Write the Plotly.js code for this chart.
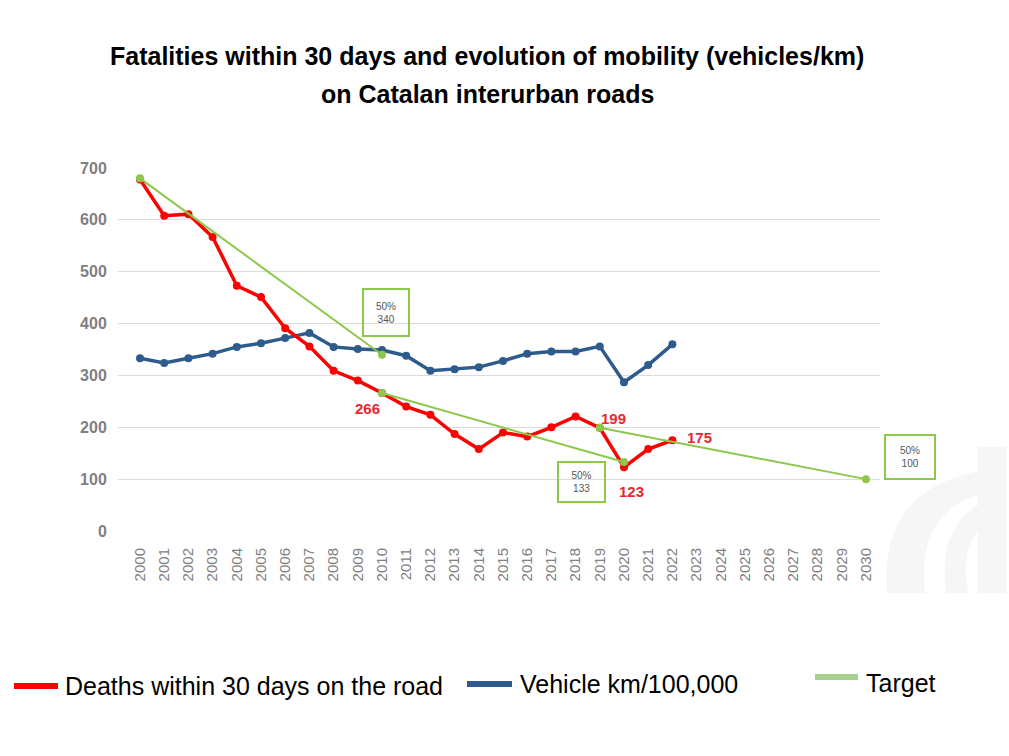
<!DOCTYPE html>
<html>
<head>
<meta charset="utf-8">
<script src="https://cdn.plot.ly/plotly-3.0.1.min.js"></script>
<style>html,body{margin:0;padding:0;background:#fff;}#chart{width:1009px;height:756px;}</style>
</head>
<body>
<div id="chart"></div>
<script>
const years = [2000,2001,2002,2003,2004,2005,2006,2007,2008,2009,2010,2011,2012,2013,2014,2015,2016,2017,2018,2019,2020,2021,2022];
const deaths = [678,608,611,567,473,451,391,356,309,290,266,240,224,187,158,190,182,200,221,199,123,158,175];
const vehicleKm = [333,324,333,342,355,362,372,382,355,351,349,338,309,312,316,328,342,346,346,356,287,320,360];
const targetYears = [2000,2010,null,2010,2020,null,2019,2030];
const targetValues = [680,340,null,266,133,null,199,100];
const tickYears = [2000,2001,2002,2003,2004,2005,2006,2007,2008,2009,2010,2011,2012,2013,2014,2015,2016,2017,2018,2019,2020,2021,2022,2023,2024,2025,2026,2027,2028,2029,2030];
const yTicks = [0,100,200,300,400,500,600,700];
const targetBoxLabels = ['50%<br>340', '50%<br>133', '50%<br>100'];
const labelYears = [2010, 2019, 2022, 2020];
const labelValues = [266, 199, 175, 123];
const legendNames = ['Deaths within 30 days on the road', 'Vehicle km/100,000', 'Target'];
const titleLines = ['Fatalities within 30 days and evolution of mobility (vehicles/km)', 'on Catalan interurban roads'];

const W = 1009, H = 756;
const L = 118, R = 880, T = 168, B = 531;
const px = x => (x - L) / (R - L);
const py = y => (B - y) / (B - T);

const RED = '#ff0000', BLUE = '#2e5a8c', GREEN = '#8cc84b';
const SANS = '"Liberation Sans", Arial, sans-serif';

const traces = [
  {x: years, y: vehicleKm, type: 'scatter', mode: 'lines+markers', line: {color: BLUE, width: 3.5}, marker: {color: BLUE, size: 8}, showlegend: false, cliponaxis: false},
  {x: years, y: deaths, type: 'scatter', mode: 'lines+markers', line: {color: RED, width: 3.5}, marker: {color: RED, size: 8}, showlegend: false, cliponaxis: false},
  {x: targetYears, y: targetValues, type: 'scatter', mode: 'lines+markers', line: {color: GREEN, width: 2}, marker: {color: GREEN, size: 8}, showlegend: false, cliponaxis: false, connectgaps: false}
];

const annotations = [];
const titleY = [56, 94];
titleLines.forEach((t, i) => {
  annotations.push({xref: 'paper', yref: 'paper', x: px(487), y: py(titleY[i]), text: '<b>' + t + '</b>', showarrow: false, xanchor: 'center', yanchor: 'middle', font: {family: SANS, size: 25, color: '#000'}});
});

const boxPos = [[386, 312, 48, 49], [581, 482, 49, 42], [910, 457, 52, 46]];
targetBoxLabels.forEach((t, i) => {
  const b = boxPos[i];
  annotations.push({xref: 'paper', yref: 'paper', x: px(b[0]), y: py(b[1]), text: t, showarrow: false, xanchor: 'center', yanchor: 'middle',
    width: b[2] - 4, height: b[3] - 4, bordercolor: GREEN, borderwidth: 2, bgcolor: 'rgba(255,255,255,0)', borderpad: 0,
    font: {family: SANS, size: 10, color: '#555'}});
});

const labelOffsets = [[-0.62, -30.5], [0.55, 17], [1.14, 4.5], [0.33, -46]];
labelValues.forEach((v, i) => {
  annotations.push({x: labelYears[i] + labelOffsets[i][0], y: v + labelOffsets[i][1], xref: 'x', yref: 'y', text: '<b>' + v + '</b>', showarrow: false,
    xanchor: 'center', yanchor: 'middle', font: {family: SANS, size: 15, color: '#e8282e'}});
});

const P = (X, Y) => px(X).toFixed(4) + ',' + py(Y).toFixed(4);
const WM = '#f6f6f6';
const shapes = [
  {type: 'path', xref: 'paper', yref: 'paper', layer: 'below', line: {width: 0}, fillcolor: WM,
    path: 'M' + P(887,593) + ' Q' + P(878,488) + ' ' + P(985,470) + ' L' + P(985,492) + ' Q' + P(915,512) + ' ' + P(925,593) + ' Z'},
  {type: 'path', xref: 'paper', yref: 'paper', layer: 'below', line: {width: 0}, fillcolor: WM,
    path: 'M' + P(946,593) + ' Q' + P(938,528) + ' ' + P(978,505) + ' L' + P(978,532) + ' Q' + P(960,552) + ' ' + P(968,593) + ' Z'},
  {type: 'rect', xref: 'paper', yref: 'paper', layer: 'below', line: {width: 0}, fillcolor: WM,
    x0: px(978), x1: px(1006), y0: py(593), y1: py(447)}
];

const legendColors = [RED, BLUE, '#a8d18d'];
const legendPos = [[14, 58, 686, 63], [467, 512, 684, 518], [815, 858, 677, 864]];
const legendTextY = [686, 684, 683];
legendNames.forEach((n, i) => {
  const p = legendPos[i];
  shapes.push({type: 'line', xref: 'paper', yref: 'paper', x0: px(p[0]), x1: px(p[1]), y0: py(p[2]), y1: py(p[2]), line: {color: legendColors[i], width: 6}});
  annotations.push({xref: 'paper', yref: 'paper', x: px(p[3]), y: py(legendTextY[i]), text: n, showarrow: false, xanchor: 'left', yanchor: 'middle',
    font: {family: SANS, size: 25, color: '#000'}});
});

const layout = {
  width: W, height: H,
  margin: {l: L, r: W - R, t: T, b: H - B, pad: 0},
  paper_bgcolor: '#fff', plot_bgcolor: 'rgba(0,0,0,0)',
  showlegend: false,
  xaxis: {range: [1999.09, 2030.58], tickmode: 'array', tickvals: tickYears, ticktext: tickYears.map(String), tickangle: -90,
    showgrid: false, zeroline: false, showline: false, ticks: 'outside', ticklen: 10, tickcolor: 'rgba(0,0,0,0)',
    tickfont: {family: SANS, size: 15, color: '#808080'}},
  yaxis: {range: [0, 700], tickmode: 'array', tickvals: yTicks, ticktext: yTicks.map(v => '<b>' + v + '</b>'), showgrid: true, gridcolor: '#dcdcdc', gridwidth: 1,
    zeroline: false, showline: false, ticks: 'outside', ticklen: 7, tickcolor: 'rgba(0,0,0,0)',
    tickfont: {family: SANS, size: 16, color: '#7f7f7f'}},
  annotations: annotations,
  shapes: shapes
};

Plotly.newPlot('chart', traces, layout, {displayModeBar: false, staticPlot: true});
</script>
</body>
</html>
